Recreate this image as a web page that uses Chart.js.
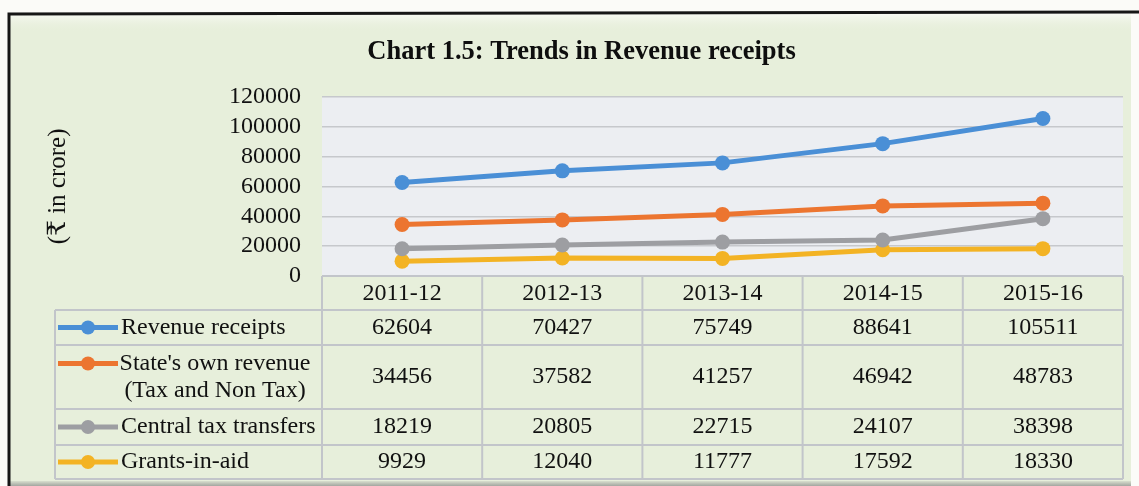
<!DOCTYPE html>
<html>
<head>
<meta charset="utf-8">
<title>Chart 1.5: Trends in Revenue receipts</title>
<script src="https://cdn.jsdelivr.net/npm/chart.js@4.4.1/dist/chart.umd.min.js"></script>
<style>
  html, body { margin: 0; padding: 0; background: #fff; }
  #wrap { width: 1139px; height: 486px; position: relative; }
</style>
</head>
<body>
<div id="wrap"><canvas id="revenue-chart"></canvas></div>
<script>
// Revenue receipts, Rs in crore
const categories = ['2011-12', '2012-13', '2013-14', '2014-15', '2015-16'];
const revenueReceipts = [62604, 70427, 75749, 88641, 105511];
const stateOwnRevenue = [34456, 37582, 41257, 46942, 48783];
const centralTaxTransfers = [18219, 20805, 22715, 24107, 38398];
const grantsInAid = [9929, 12040, 11777, 17592, 18330];

const seriesNames = [
    ['Revenue receipts'],
    ["State's own revenue", '(Tax and Non Tax)'],
    ['Central tax transfers'],
    ['Grants-in-aid']
];
const seriesColors = ['#4a8fd6', '#ec7530', '#9d9ea2', '#f3b324'];
const yMin = 0, yMax = 120000, yStep = 20000;

const serif = "'Liberation Serif', 'DejaVu Serif', 'Noto Sans', serif";
const textColor = '#111111';

// table geometry (below the plot)
const headerHeight = 34;
const rowHeights = [35, 64, 36, 34];
const labelLeft = 55;
const tableLine = '#c2c5ca';

const pagePlugin = {
    id: 'page',
    beforeDraw(chart) {
        const {ctx, width, height, chartArea: a} = chart;
        ctx.save();
        ctx.fillStyle = '#fbfbf8';
        ctx.fillRect(0, 0, width, height);

        ctx.fillStyle = '#e7efdb';
        ctx.fillRect(9, 14, 1122, height - 14);

        const top = ctx.createLinearGradient(0, 14, 0, 32);
        top.addColorStop(0, '#f7f9f2');
        top.addColorStop(1, 'rgba(231,239,219,0)');
        ctx.fillStyle = top;
        ctx.fillRect(9, 14, 1122, 18);

        const bottom = ctx.createLinearGradient(0, 481, 0, height);
        bottom.addColorStop(0, 'rgba(160,163,158,0.2)');
        bottom.addColorStop(1, '#a3a6a0');
        ctx.fillStyle = bottom;
        ctx.fillRect(9, 481, 1122, height - 481);

        ctx.strokeStyle = '#161616';
        ctx.lineWidth = 3;
        ctx.beginPath();
        ctx.moveTo(9, height);
        ctx.lineTo(9, 14);
        ctx.lineTo(width, 12);
        ctx.stroke();

        ctx.fillStyle = '#eceef2';
        ctx.fillRect(a.left, a.top, a.right - a.left, a.bottom - a.top);
        ctx.restore();
    }
};

const tablePlugin = {
    id: 'dataTable',
    afterDraw(chart) {
        const {ctx, chartArea: a, scales: {x}} = chart;
        const colWidth = (a.right - a.left) / categories.length;
        const rows = [a.bottom, a.bottom + headerHeight];
        rowHeights.forEach(h => rows.push(rows[rows.length - 1] + h));
        const tableBottom = rows[rows.length - 1];

        ctx.save();
        ctx.strokeStyle = tableLine;
        ctx.lineWidth = 2;
        ctx.beginPath();
        ctx.moveTo(a.left, a.bottom);
        ctx.lineTo(a.right, a.bottom);
        for (let r = 1; r < rows.length; r++) {
            ctx.moveTo(labelLeft, rows[r]);
            ctx.lineTo(a.right, rows[r]);
        }
        for (let c = 0; c <= categories.length; c++) {
            const cx = a.left + c * colWidth;
            ctx.moveTo(cx, a.bottom);
            ctx.lineTo(cx, tableBottom);
        }
        ctx.moveTo(labelLeft, rows[1]);
        ctx.lineTo(labelLeft, tableBottom);
        ctx.stroke();

        ctx.font = '24px ' + serif;
        ctx.fillStyle = textColor;
        ctx.textBaseline = 'middle';
        ctx.textAlign = 'center';

        const headerY = (rows[0] + rows[1]) / 2 + 1;
        categories.forEach((cat, i) => ctx.fillText(cat, x.getPixelForValue(i), headerY));

        chart.data.datasets.forEach((ds, r) => {
            const cy = (rows[r + 1] + rows[r + 2]) / 2;
            ds.data.forEach((v, i) => ctx.fillText(String(v), x.getPixelForValue(i), cy));

            // legend key + series name
            const lines = seriesNames[r];
            const lineGap = 27;
            const firstY = cy - (lines.length - 1) * lineGap / 2;
            ctx.strokeStyle = ds.borderColor;
            ctx.lineWidth = 5;
            ctx.beginPath();
            ctx.moveTo(labelLeft + 3, firstY);
            ctx.lineTo(labelLeft + 63, firstY);
            ctx.stroke();
            ctx.fillStyle = ds.borderColor;
            ctx.beginPath();
            ctx.arc(labelLeft + 33, firstY, 7, 0, Math.PI * 2);
            ctx.fill();

            ctx.fillStyle = textColor;
            if (lines.length === 1) {
                ctx.textAlign = 'left';
                ctx.fillText(lines[0], labelLeft + 66, cy);
            } else {
                ctx.textAlign = 'center';
                lines.forEach((t, k) => ctx.fillText(t, labelLeft + 160, firstY + k * lineGap));
            }
            ctx.textAlign = 'center';
        });
        ctx.restore();
    }
};

const series = [revenueReceipts, stateOwnRevenue, centralTaxTransfers, grantsInAid];

new Chart(document.getElementById('revenue-chart'), {
    type: 'line',
    data: {
        labels: categories,
        datasets: series.map((values, i) => ({
            label: seriesNames[i].join(' '),
            data: values,
            borderColor: seriesColors[i],
            backgroundColor: seriesColors[i],
            pointBackgroundColor: seriesColors[i],
            pointBorderWidth: 0,
            pointRadius: 7.5,
            borderWidth: 5,
            tension: 0
        }))
    },
    options: {
        responsive: true,
        maintainAspectRatio: false,
        devicePixelRatio: 1,
        animation: false,
        layout: {
            padding: {left: 40, right: 16, top: 24, bottom: 210}
        },
        plugins: {
            legend: {display: false},
            tooltip: {enabled: false},
            title: {
                display: true,
                text: 'Chart 1.5: Trends in Revenue receipts',
                color: '#0e0e0e',
                font: {family: serif, size: 26.5, weight: 'bold'},
                padding: {top: 12, bottom: 29}
            }
        },
        scales: {
            x: {
                display: false,
                offset: true
            },
            y: {
                min: yMin,
                max: yMax,
                afterFit(scale) { scale.width = 282; },
                ticks: {
                    stepSize: yStep,
                    autoSkip: false,
                    padding: 21,
                    color: textColor,
                    font: {family: serif, size: 24},
                    callback: v => String(v)
                },
                grid: {color: '#c6c8cc', lineWidth: 1.5, drawTicks: false},
                border: {display: false},
                title: {
                    display: true,
                    text: '(₹ in crore)',
                    color: textColor,
                    font: {family: serif, size: 25},
                    padding: {top: 3, bottom: 0}
                }
            }
        }
    },
    plugins: [pagePlugin, tablePlugin]
});
</script>
</body>
</html>
